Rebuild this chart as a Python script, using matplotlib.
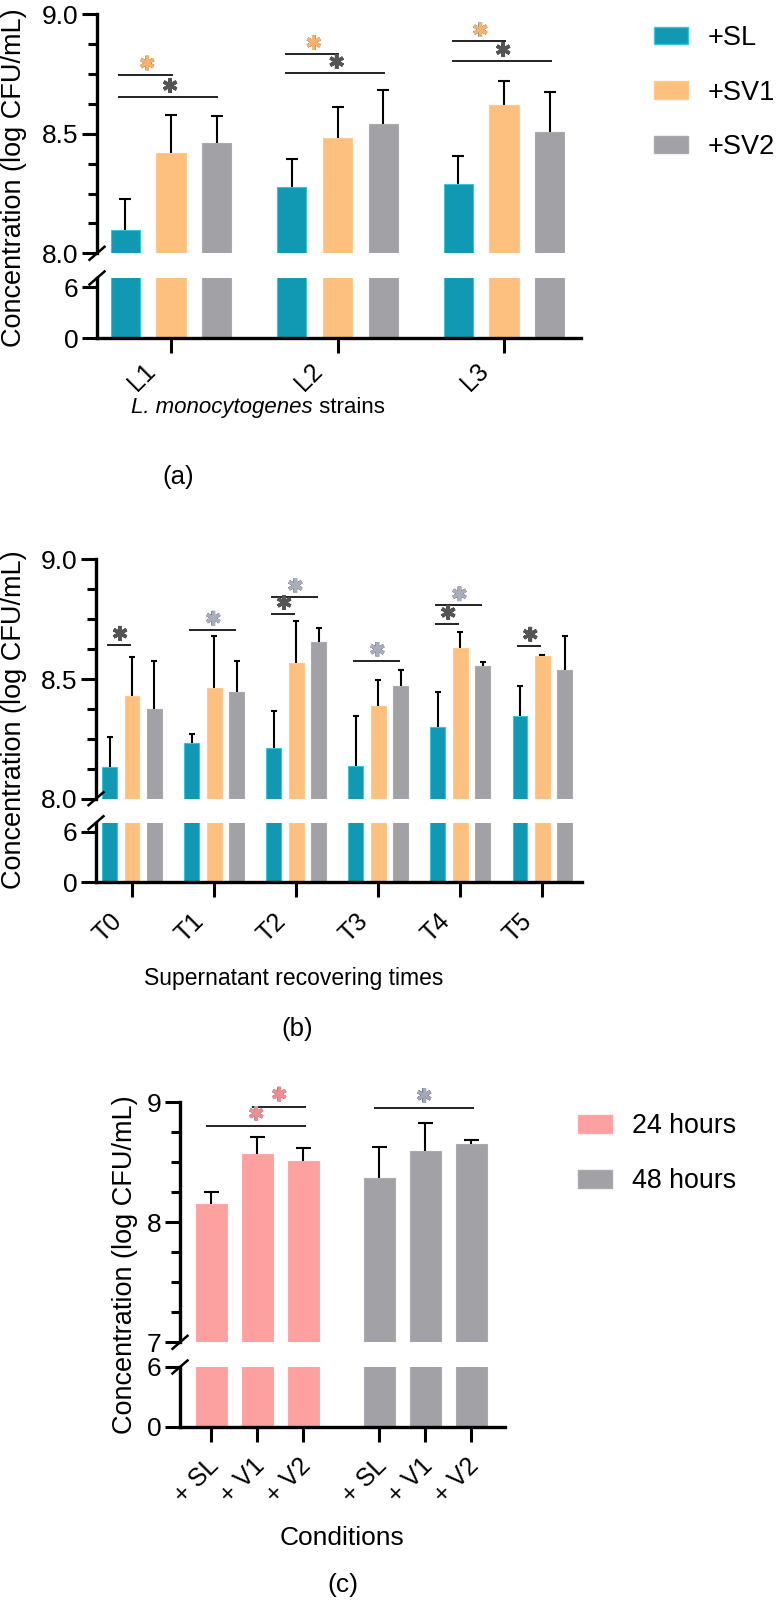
import numpy as np
import matplotlib
matplotlib.use('Agg')
import matplotlib.pyplot as plt
from matplotlib.patches import Patch
from matplotlib.lines import Line2D
from matplotlib.ticker import MultipleLocator, FormatStrFormatter
from matplotlib.transforms import offset_copy, ScaledTranslation
import matplotlib.patheffects as pe

plt.rcParams['font.family'] = ['Liberation Sans', 'DejaVu Sans']

# %% dane - panel (a)
strains = ['L1', 'L2', 'L3']
sl_a = [8.097, 8.276, 8.291]
sl_a_sd = [0.129, 0.119, 0.115]
sv1_a = [8.418, 8.482, 8.622]
sv1_a_sd = [0.162, 0.130, 0.098]
sv2_a = [8.463, 8.541, 8.509]
sv2_a_sd = [0.110, 0.143, 0.166]
# (grupa, od, do, wysokosc linii, typ gwiazdki)
sig_a = [(0, 0, 1, 8.748, 'orange'), (0, 0, 2, 8.654, 'dark'),
         (1, 0, 1, 8.834, 'orange'), (1, 0, 2, 8.754, 'dark'),
         (2, 0, 1, 8.888, 'orange'), (2, 0, 2, 8.804, 'dark')]

# %% dane - panel (b)
times = ['T0', 'T1', 'T2', 'T3', 'T4', 'T5']
sl_b = [8.131, 8.231, 8.210, 8.137, 8.298, 8.344]
sl_b_sd = [0.125, 0.039, 0.155, 0.210, 0.146, 0.127]
sv1_b = [8.429, 8.461, 8.566, 8.389, 8.631, 8.596]
sv1_b_sd = [0.164, 0.217, 0.175, 0.106, 0.064, 0.006]
sv2_b = [8.375, 8.447, 8.653, 8.472, 8.556, 8.539]
sv2_b_sd = [0.200, 0.130, 0.059, 0.066, 0.014, 0.141]
sig_b = [(0, 0, 1, 8.643, 'dark'), (1, 0, 2, 8.706, 'light'),
         (2, 0, 2, 8.843, 'light'), (2, 0, 1, 8.772, 'dark'),
         (3, 0, 2, 8.576, 'light'), (4, 0, 2, 8.808, 'light'),
         (4, 0, 1, 8.730, 'dark'), (5, 0, 1, 8.639, 'dark')]

# %% dane - panel (c)
conditions = ['+ SL', '+ V1', '+ V2']
h24 = [8.156, 8.569, 8.510]
h24_sd = [0.094, 0.144, 0.109]
h48 = [8.366, 8.594, 8.652]
h48_sd = [0.264, 0.236, 0.036]
# (seria, od, do, wysokosc linii, typ gwiazdki)
sig_c = [(0, 1, 2, 8.96, 'pink'), (0, 0, 2, 8.80, 'pink'), (1, 0, 2, 8.95, 'blue')]

# %% kolory
teal, teal_e = '#1199B4', '#35C6DA'
orange, orange_e = '#FEC07F', '#FFC98F'
grey, grey_e = '#A2A1A6', '#ABAAAF'
pink, pink_e = '#FDA0A0', '#FDA8A8'
stars = {'orange': ('#F9B26E', '#999999'), 'dark': ('#545454', '#545454'),
         'light': ('#A9AEBD', '#7E8596'), 'pink': ('#F58C8C', '#8590A8'),
         'blue': ('#A3A8B6', '#6F7890')}

W, H = 776, 1603
fig = plt.figure(figsize=(W / 100, H / 100), dpi=100)


def box(x0, x1, y0, y1):
    return [x0 / W, 1 - y1 / H, (x1 - x0) / W, (y1 - y0) / H]


def panel(x0, x1, y_top, y_mid1, y_mid2, y_bot, hi_lim, lo_lim, xlim):
    ax_hi = fig.add_axes(box(x0, x1, y_top, y_mid1))
    ax_lo = fig.add_axes(box(x0, x1, y_mid2, y_bot))
    for ax in (ax_hi, ax_lo):
        ax.set_xlim(xlim)
        ax.spines[['top', 'right']].set_visible(False)
        ax.spines['left'].set_linewidth(2.4)
        ax.spines['bottom'].set_linewidth(2.4)
        ax.tick_params(which='major', length=10.5, width=2.2, labelsize=19, pad=3)
        ax.tick_params(which='minor', length=6.5, width=2.2)
        ax.patch.set_alpha(0)
    ax_hi.spines['bottom'].set_visible(False)
    ax_hi.tick_params(axis='x', which='both', bottom=False, labelbottom=False)
    ax_hi.set_ylim(hi_lim)
    ax_lo.set_ylim(lo_lim)
    ax_lo.set_yticks([0, 6])
    # znaczniki przerwania osi
    for cy in (y_mid1, y_mid2):
        fig.add_artist(Line2D([(x0 - 7.5) / W, (x0 + 7.5) / W],
                              [1 - (cy + 6.5) / H, 1 - (cy - 6.5) / H],
                              color='black', lw=1.8))
    return ax_hi, ax_lo


def bars(ax_hi, ax_lo, xs, vals, sds, color, edge, width, capsize, elw):
    for ax in (ax_hi, ax_lo):
        ax.bar(xs, vals, width, color=color, edgecolor=edge, linewidth=0.8, zorder=2)
    eb = ax_hi.errorbar(xs, vals, yerr=[np.zeros(len(vals)), sds], fmt='none', ecolor='black',
                        elinewidth=elw, capsize=capsize, capthick=elw, zorder=1)
    eb[1][0].set_visible(False)  # bez dolnej kreski


def xlabels(ax, pos, labels, dx, dy):
    # etykiety pod katem 45, kotwica na koncu linii bazowej
    ax.set_xticks(pos, labels)
    ax.tick_params(axis='x', pad=dy / 1.389 - 10.5)
    shift = ScaledTranslation(dx / 100, 0, fig.dpi_scale_trans)
    for t in ax.get_xticklabels():
        t.set_fontsize(18)
        t.set_rotation(45)
        t.set_rotation_mode('anchor')
        t.set_ha('right')
        t.set_va('baseline')
        t.set_transform(t.get_transform() + shift)


def sig(ax, xa, xb, y, kind, lift, lw=1.4):
    ax.plot([xa, xb], [y, y], color='#222222', lw=lw, clip_on=False, solid_capstyle='butt')
    fc, ec = stars[kind]
    tr = offset_copy(ax.transData, fig=fig, y=lift, units='dots')
    ax.plot([(xa + xb) / 2 + 0.01], [y], transform=tr, marker=(6, 2, 0), ms=10.5, mew=1.9,
            color=fc, ls='none', clip_on=False,
            path_effects=[pe.Stroke(linewidth=2.6, foreground=ec), pe.Normal()])


def legend(ax, handles, x, y_center, fs):
    em = fs * 1.389
    ax.legend(handles=handles, loc='upper left',
              bbox_to_anchor=(x / W, 1 - (y_center - 0.42 * em) / H),
              bbox_transform=fig.transFigure, frameon=False, fontsize=fs,
              handlelength=34 / em, handleheight=17 / em, handletextpad=20 / em,
              labelspacing=(55 - 0.98 * em) / em, borderpad=0, borderaxespad=0)


def ylab(x, y):
    fig.text(x / W, 1 - y / H, 'Concentration (log CFU/mL)', rotation=90,
             ha='center', va='center', fontsize=19.5)


# %% panel (a)
ax_hi, ax_lo = panel(97, 581, 14.3, 253.3, 278, 338, (8, 9), (0, 7.06), (-0.444, 2.462))
g = np.arange(len(strains))
off, bw = 0.275, 0.175
series_a = [(sl_a, sl_a_sd, teal, teal_e), (sv1_a, sv1_a_sd, orange, orange_e),
            (sv2_a, sv2_a_sd, grey, grey_e)]
for k, (v, s, c, e) in enumerate(series_a):
    bars(ax_hi, ax_lo, g + (k - 1) * off, v, s, c, e, bw, 4.6, 1.5)
for grp, i, j, y, kind in sig_a:
    sig(ax_hi, grp + (i - 1) * off - 0.04, grp + (j - 1) * off + 0.01, y, kind, 11.5)
ax_hi.set_yticks([8, 8.5, 9])
ax_hi.yaxis.set_major_formatter(FormatStrFormatter('%.1f'))
ax_hi.yaxis.set_minor_locator(MultipleLocator(0.125))
xlabels(ax_lo, g, strains, -14, 34)
legend(ax_hi, [Patch(facecolor=c, edgecolor=e, label=l) for (_, _, c, e), l in
               zip(series_a, ['+SL', '+SV1', '+SV2'])], 654, 36.5, 19.5)
ylab(14.5, 177.5)
# tytul osi X: czesc kursywa + zwykla
renderer = fig.canvas.get_renderer()
t1 = fig.text(131 / W, 1 - 413 / H, 'L. monocytogenes', style='italic',
              ha='left', va='baseline', fontsize=16)
bb = t1.get_window_extent(renderer)
fig.text(bb.x1 / W, 1 - 413 / H, ' strains', ha='left', va='baseline', fontsize=16)
fig.text(178 / W, 1 - 477 / H, '(a)', ha='center', va='center', fontsize=18.5)

# %% panel (b)
ax_hi, ax_lo = panel(96, 581.7, 559.3, 798.7, 822.7, 882.3, (8, 9), (0, 7.07), (-0.44, 5.48))
g = np.arange(len(times))
off, bw = 0.273, 0.18
series_b = [(sl_b, sl_b_sd, teal, teal_e), (sv1_b, sv1_b_sd, orange, orange_e),
            (sv2_b, sv2_b_sd, grey, grey_e)]
for k, (v, s, c, e) in enumerate(series_b):
    bars(ax_hi, ax_lo, g + (k - 1) * off, v, s, c, e, bw, 2.2, 1.5)
for grp, i, j, y, kind in sig_b:
    sig(ax_hi, grp + (i - 1) * off - 0.03, grp + (j - 1) * off - 0.01, y, kind, 11.5)
ax_hi.set_yticks([8, 8.5, 9])
ax_hi.yaxis.set_major_formatter(FormatStrFormatter('%.1f'))
ax_hi.yaxis.set_minor_locator(MultipleLocator(0.125))
xlabels(ax_lo, g, times, -9, 40)
ylab(14.5, 720)
fig.text(293.5 / W, 1 - 978 / H, 'Supernatant recovering times',
         ha='center', va='center', fontsize=16.5)
fig.text(297 / W, 1 - 1029 / H, '(b)', ha='center', va='center', fontsize=18.5)

# %% panel (c)
ax_hi, ax_lo = panel(180, 505, 1102.3, 1342.3, 1367, 1426.7, (7, 9), (0, 6.0), (-0.678, 6.387))
pos = [np.arange(3), np.arange(3) + 3.652]
series_c = [(h24, h24_sd, pink, pink_e), (h48, h48_sd, grey, grey_e)]
for k, (v, s, c, e) in enumerate(series_c):
    bars(ax_hi, ax_lo, pos[k], v, s, c, e, 0.667, 5.4, 1.5)
for ser, i, j, y, kind in sig_c:
    sig(ax_hi, pos[ser][i] - 0.12, pos[ser][j] + 0.06, y, kind, 13)
ax_hi.set_yticks([7, 8, 9])
ax_hi.yaxis.set_minor_locator(MultipleLocator(0.25))
xlabels(ax_lo, np.concatenate(pos), conditions * 2, 9, 40)
legend(ax_hi, [Patch(facecolor=c, edgecolor=e, label=l) for (_, _, c, e), l in
               zip(series_c, ['24 hours', '48 hours'])], 578, 1124.7, 19.3)
ylab(124.5, 1265)
fig.text(342 / W, 1 - 1538 / H, 'Conditions', ha='center', va='center', fontsize=19)
fig.text(343 / W, 1 - 1585 / H, '(c)', ha='center', va='center', fontsize=19)

plt.savefig('out.png', dpi=100)
